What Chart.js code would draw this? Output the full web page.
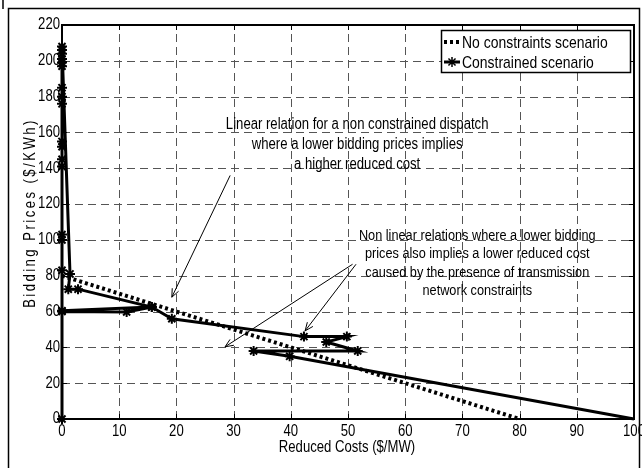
<!DOCTYPE html>
<html>
<head>
<meta charset="utf-8">
<script src="https://cdn.jsdelivr.net/npm/chart.js@4.4.0/dist/chart.umd.min.js"></script>
<style>
  html, body { margin: 0; padding: 0; background: #fff; }
  #wrap { width: 642px; height: 468px; position: relative; }
</style>
</head>
<body>
<div id="wrap"><canvas id="chart"></canvas></div>
<script>
// Bidding price vs reduced cost, with and without transmission constraints
const xTicks = [0, 10, 20, 30, 40, 50, 60, 70, 80, 90, 100];
const yTicks = [0, 20, 40, 60, 80, 100, 120, 140, 160, 180, 200, 220];

const seriesNames = ['No constraints scenario', 'Constrained scenario'];

// unconstrained dispatch: straight linear relation
const freeCost = [0, 80];
const freePrice = [80, 0];

// constrained dispatch, in generator order
const conCost = [0, 0, 11.3, 15.7, 0, 0, 0, 0, 0, 0, 0, 0, 0, 0, 0, 0, 0, 0, 0, 0, 0,
  1.4, 1.1, 2.8, 15.7, 19.2, 42.3, 49.8, 46.2, 51.7, 33.5, 39.8, 100];
const conPrice = [0, 60, 59.8, 62.5, 60.5, 83, 100, 103, 141, 145, 152, 155, 176, 180, 185, 197, 199, 201, 204, 206, 208,
  81, 72.5, 72.5, 62.5, 56, 46, 46, 43, 38, 38, 35, 0];

const noteLinear = ['Linear relation for a non constrained dispatch',
  'where a lower bidding prices implies', 'a higher reduced cost'];
const noteNonLinear = ['Non linear relations where a lower bidding',
  'prices also implies a lower reduced cost',
  'caused by the presence of transmission', 'network constraints'];

// Liberation Sans squeezed horizontally stands in for a narrow face
const FONT = '"Liberation Sans", Arial, sans-serif';
const SQUEEZE = 0.82;

const toPoints = (xs, ys) => xs.map((x, i) => ({ x: x, y: ys[i] }));

// text blocks and arrows, anchored in data units
const notes = [
  { lines: noteLinear, x: 51.6, y: 164.5, step: 20, size: 16 },
  { lines: noteNonLinear, x: 72.6, y: 102.5, step: 18.5, size: 15.5 }
];
const arrows = [
  { from: [29.4, 136], to: [19.2, 68] },
  { from: [50.8, 86.4], to: [28.5, 40.3] },
  { from: [51.4, 86.4], to: [42.5, 49.2] }
];

function narrowText(ctx, text, x, y, align, size, spacing) {
  ctx.save();
  ctx.font = size + 'px ' + FONT;
  ctx.letterSpacing = (spacing || 0) + 'px';
  ctx.textAlign = 'left';
  ctx.textBaseline = 'middle';
  const w = ctx.measureText(text).width * SQUEEZE;
  let left = x;
  if (align === 'center') left = x - w / 2;
  else if (align === 'right') left = x - w;
  ctx.translate(left, y);
  ctx.scale(SQUEEZE, 1);
  ctx.fillText(text, 0, 0);
  ctx.restore();
}

function arrow(ctx, x1, y1, x2, y2) {
  const a = Math.atan2(y2 - y1, x2 - x1);
  const L = 9, w = 0.4;
  ctx.beginPath();
  ctx.moveTo(x1, y1);
  ctx.lineTo(x2, y2);
  ctx.moveTo(x2 - L * Math.cos(a - w), y2 - L * Math.sin(a - w));
  ctx.lineTo(x2, y2);
  ctx.lineTo(x2 - L * Math.cos(a + w), y2 - L * Math.sin(a + w));
  ctx.stroke();
}

const figure = {
  id: 'figure',
  beforeDraw(chart) {
    const ctx = chart.ctx;
    ctx.save();
    ctx.fillStyle = '#fff';
    ctx.fillRect(0, 0, chart.width, chart.height);
    ctx.strokeStyle = '#000';
    ctx.lineWidth = 1.5;
    ctx.strokeRect(8.5, 8.5, 631, 462);
    ctx.beginPath();
    ctx.moveTo(3, 0);
    ctx.lineTo(3, 9);
    ctx.stroke();
    ctx.restore();
  },
  beforeDatasetsDraw(chart) {
    const { ctx, chartArea: a, scales } = chart;
    ctx.save();
    // dashed grid
    ctx.strokeStyle = '#555';
    ctx.lineWidth = 1;
    ctx.setLineDash([8, 5]);
    xTicks.slice(1, -1).forEach(v => {
      const px = Math.round(scales.x.getPixelForValue(v)) + 0.5;
      ctx.beginPath(); ctx.moveTo(px, a.bottom); ctx.lineTo(px, a.top); ctx.stroke();
    });
    yTicks.slice(1, -1).forEach(v => {
      const py = Math.round(scales.y.getPixelForValue(v)) + 0.5;
      ctx.beginPath(); ctx.moveTo(a.left, py); ctx.lineTo(a.right, py); ctx.stroke();
    });
    ctx.setLineDash([]);
    // inward tick marks
    ctx.strokeStyle = '#000';
    xTicks.forEach(v => {
      const px = Math.round(scales.x.getPixelForValue(v)) + 0.5;
      ctx.beginPath();
      ctx.moveTo(px, a.bottom); ctx.lineTo(px, a.bottom - 5);
      ctx.moveTo(px, a.top); ctx.lineTo(px, a.top + 5);
      ctx.stroke();
    });
    yTicks.forEach(v => {
      const py = Math.round(scales.y.getPixelForValue(v)) + 0.5;
      ctx.beginPath();
      ctx.moveTo(a.left, py); ctx.lineTo(a.left + 5, py);
      ctx.moveTo(a.right, py); ctx.lineTo(a.right - 5, py);
      ctx.stroke();
    });
    // axes box
    ctx.lineWidth = 2;
    ctx.strokeRect(a.left, a.top, a.right - a.left, a.bottom - a.top);

    // tick labels
    ctx.fillStyle = '#000';
    xTicks.forEach(v => narrowText(ctx, String(v), scales.x.getPixelForValue(v), a.bottom + 13, 'center', 16));
    yTicks.forEach(v => narrowText(ctx, String(v), a.left - 2, scales.y.getPixelForValue(v), 'right', 16));
    ctx.restore();
  },
  afterDatasetsDraw(chart) {
    const { ctx, scales } = chart;
    const X = v => scales.x.getPixelForValue(v);
    const Y = v => scales.y.getPixelForValue(v);
    ctx.save();
    ctx.fillStyle = '#000';
    ctx.strokeStyle = '#000';
    notes.forEach(n => {
      n.lines.forEach((t, i) => narrowText(ctx, t, X(n.x), Y(n.y) + i * n.step, 'center', n.size));
    });
    ctx.lineWidth = 1;
    arrows.forEach(r => arrow(ctx, X(r.from[0]), Y(r.from[1]), X(r.to[0]), Y(r.to[1])));

    // legend box
    const lx = 441, ly = 30, lw = 189, lh = 42;
    ctx.fillStyle = '#fff';
    ctx.fillRect(lx, ly, lw, lh);
    ctx.lineWidth = 1.5;
    ctx.strokeRect(lx + 0.5, ly + 0.5, lw, lh);
    ctx.fillStyle = '#000';
    chart.data.datasets.forEach((d, i) => {
      const yy = ly + 12 + i * 20;
      ctx.save();
      ctx.strokeStyle = '#000';
      ctx.lineWidth = d.borderWidth;
      ctx.setLineDash(d.borderDash || []);
      ctx.beginPath(); ctx.moveTo(lx + 3, yy); ctx.lineTo(lx + 19, yy); ctx.stroke();
      ctx.restore();
      if (d.pointStyle) {
        Chart.helpers.drawPoint(ctx, { pointStyle: d.pointStyle, radius: 5, borderWidth: 2 }, lx + 11, yy);
      }
      narrowText(ctx, d.label, lx + 21, yy + 1, 'left', 17);
    });

    // axis titles
    narrowText(ctx, 'Reduced Costs ($/MW)', 347, 448, 'center', 16);
    ctx.translate(31, 213);
    ctx.rotate(-Math.PI / 2);
    narrowText(ctx, 'Bidding Prices ($/KWh)', 0, 0, 'center', 16, 3);
    ctx.restore();
  }
};

new Chart(document.getElementById('chart'), {
  type: 'scatter',
  data: {
    datasets: [
      {
        label: seriesNames[0],
        data: toPoints(freeCost, freePrice),
        showLine: true,
        borderColor: '#000',
        borderWidth: 4,
        borderDash: [3, 3],
        pointRadius: 0,
        clip: false
      },
      {
        label: seriesNames[1],
        data: toPoints(conCost, conPrice),
        showLine: true,
        borderColor: '#000',
        backgroundColor: '#000',
        borderWidth: 3,
        pointStyle: 'star',
        pointRadius: ctx => (ctx.dataIndex === conCost.length - 1 ? 0 : 5),
        pointBorderWidth: 2,
        pointBorderColor: '#000',
        clip: false
      }
    ]
  },
  options: {
    responsive: true,
    maintainAspectRatio: false,
    animation: false,
    layout: { padding: { top: 25, right: 8, left: 0, bottom: 0 } },
    plugins: { legend: { display: false }, tooltip: { enabled: false } },
    scales: {
      x: {
        type: 'linear',
        min: 0, max: 100,
        afterBuildTicks: s => { s.ticks = xTicks.map(v => ({ value: v })); },
        afterFit: s => { s.height = 49; s.paddingLeft = 0; s.paddingRight = 0; },
        grid: { display: false },
        border: { display: false },
        ticks: { display: false }
      },
      y: {
        type: 'linear',
        min: 0, max: 220,
        afterBuildTicks: s => { s.ticks = yTicks.map(v => ({ value: v })); },
        afterFit: s => { s.width = 62; s.paddingTop = 0; s.paddingBottom = 0; },
        grid: { display: false },
        border: { display: false },
        ticks: { display: false }
      }
    }
  },
  plugins: [figure]
});
</script>
</body>
</html>
